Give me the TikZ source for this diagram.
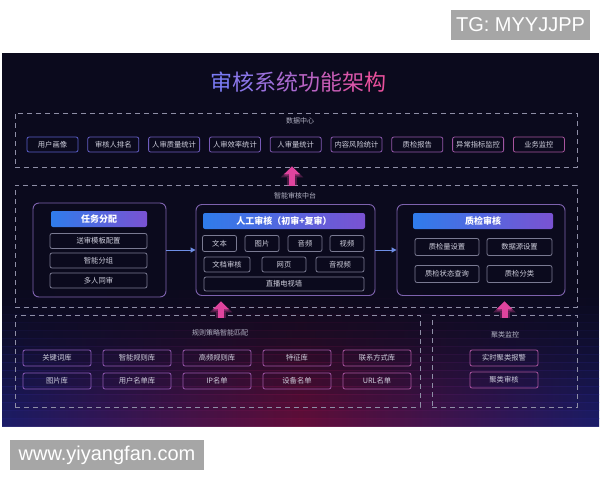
\documentclass[tikz,border=0pt]{standalone}
\usepackage{fontspec}
\setmainfont{Liberation Sans}
\newfontfamily\cjk{Noto Sans CJK SC}
\usetikzlibrary{arrows.meta}
\definecolor{bgnavy}{HTML}{0B0A1D}
\definecolor{glowmid}{HTML}{6A0E3C}
\definecolor{glowside}{HTML}{1D1E6E}
\definecolor{dashgray}{HTML}{8E8EA6}
\definecolor{lbl}{HTML}{B4B4C6}
\definecolor{itxt}{HTML}{CFCFDD}
\definecolor{ibl}{HTML}{5A5EC8}
\definecolor{ipk}{HTML}{A8549E}
\definecolor{ipu}{HTML}{8A5AB8}
\definecolor{igray}{HTML}{7A7A92}
\definecolor{hblue}{HTML}{2F7CEB}
\definecolor{hpurp}{HTML}{7A52D2}
\definecolor{pnl}{HTML}{7E62AE}
\definecolor{uppink}{HTML}{E0449E}
\definecolor{harr}{HTML}{6F8FE6}
\definecolor{wmgray}{HTML}{A6A6A6}
\definecolor{ta}{HTML}{7B7CF5}
\definecolor{tb}{HTML}{E8509C}
\tikzset{
 dbox/.style={draw=dashgray, line width=0.9pt, dash pattern=on 5pt off 4pt, inner sep=0pt},
 item/.style={draw=#1, line width=0.8pt, rounded corners=2pt, text=itxt, inner sep=0pt, minimum height=15pt, font=\cjk\fontsize{7.3}{8}\selectfont},
 item/.default=igray,
 panel/.style={draw=pnl, line width=0.9pt, rounded corners=6pt, inner sep=0pt},
 hdr/.style={left color=hblue, right color=hpurp, rounded corners=2pt, text=white, minimum height=16pt, inner sep=0pt, font=\cjk\bfseries\fontsize{9}{10}\selectfont},
 lab/.style={text=lbl, font=\cjk\fontsize{7}{8}\selectfont, inner sep=0pt},
 uparr/.style={draw=uppink, line width=6pt, -{Triangle[width=16pt,length=8pt]}},
 upglow/.style={draw=uppink, opacity=0.3, line width=10pt, -{Triangle[width=22pt,length=11pt]}},
 harrow/.style={draw=harr, line width=1pt, -{Triangle[width=5pt,length=5pt]}},
 wm/.style={fill=wmgray, text=white, inner sep=0pt, font=\fontsize{20}{22}\selectfont}
}
\begin{document}
\begin{tikzpicture}[x=1pt,y=-1pt]
\useasboundingbox (0,0) rectangle (600,480);
\fill[white] (0,0) rectangle (600,480);
\fill[bgnavy] (2,53) rectangle (599,426);
\foreach \k in {0,...,16}{
 \pgfmathsetmacro\op{0.03+0.9*(\k/16)^1.4}
 \shade[left color=glowside, right color=glowside, middle color=glowmid, opacity=\op] (2,{290+8*\k}) rectangle (599,{298+8*\k});
}
% watermarks
\node[wm, minimum width=139pt, minimum height=30pt] (tg) at (520.5,25) {TG: MYYJJPP};
\node[wm, minimum width=194pt, minimum height=30pt] (www) at (107,455) {www.yiyangfan.com};
% title
\node (title) at (298,82) {\cjk\fontsize{22}{24}\selectfont
 \textcolor{ta}{审}\textcolor{tb!14!ta}{核}\textcolor{tb!28!ta}{系}\textcolor{tb!42!ta}{统}\textcolor{tb!57!ta}{功}\textcolor{tb!71!ta}{能}\textcolor{tb!86!ta}{架}\textcolor{tb}{构}};
% dashed frames
\node[dbox, minimum width=562pt, minimum height=54pt] (dc) at (296,140) {};
\node[dbox, minimum width=562pt, minimum height=122pt] (mid) at (296,246) {};
\node[dbox, minimum width=405pt, minimum height=92pt] (bl) at (217.5,361) {};
\node[dbox, minimum width=145pt, minimum height=92pt] (br) at (504.5,361) {};
% data centre
\node[lab] (dclab) at (300,121) {数据中心};
\foreach \t [count=\i from 0] in {用户画像,审核人排名,人审质量统计,人审效率统计,人审量统计,内容风险统计,质检报告,异常指标监控,业务监控}{
  \pgfmathtruncatemacro\m{\i*100/8}
  \node[item=ipk!\m!ibl, minimum width=51pt, minimum height=15pt] (top\i) at ({52.5+60.8*\i},144.5) {\t};
}
% middle
\node[lab] (midlab) at (295,196) {智能审核中台};
\node[panel, minimum width=133pt, minimum height=94pt] (lp) at (99.5,250) {};
\node[panel, minimum width=179pt, minimum height=91pt] (cp) at (285.5,250) {};
\node[panel, minimum width=168pt, minimum height=91pt] (rp) at (481,250) {};
\node[hdr, minimum width=96pt] (lh) at (99,219) {任务分配};
\node[hdr, minimum width=162pt] (ch) at (284,221) {人工审核（初审+复审）};
\node[hdr, minimum width=140pt] (rh) at (483,221) {质检审核};
\node[item, minimum width=97pt] (l1) at (98.5,241) {送审模板配置};
\node[item, minimum width=97pt] (l2) at (98.5,260.5) {智能分组};
\node[item, minimum width=97pt] (l3) at (98.5,280.5) {多人同审};
\node[item, minimum width=34pt, minimum height=16pt] (c1) at (219.5,243.5) {文本};
\node[item, minimum width=34pt, minimum height=16pt] (c2) at (262,243.5) {图片};
\node[item, minimum width=34pt, minimum height=16pt] (c3) at (305,243.5) {音频};
\node[item, minimum width=34pt, minimum height=16pt] (c4) at (347,243.5) {视频};
\node[item, minimum width=46pt] (c5) at (227,264.5) {文档审核};
\node[item, minimum width=44pt] (c6) at (284,264.5) {网页};
\node[item, minimum width=48pt] (c7) at (340,264.5) {音视频};
\node[item, minimum width=160pt, minimum height=14pt] (c8) at (284,284) {直播电视墙};
\node[item, minimum width=64pt, minimum height=17pt] (r1) at (447,247) {质检量设置};
\node[item, minimum width=65pt, minimum height=17pt] (r2) at (519.5,247) {数据源设置};
\node[item, minimum width=64pt, minimum height=17pt] (r3) at (447,274) {质检状态查询};
\node[item, minimum width=65pt, minimum height=17pt] (r4) at (519.5,274) {质检分类};
\draw[harrow] (lp.east) -- (cp.west);
\draw[harrow] (cp.east) -- (rp.west);
% bottom left
\node[lab] (bllab) at (220,333) {规则策略智能匹配};
\foreach \t [count=\i from 0] in {关键词库,智能规则库,高频规则库,特征库,联系方式库}{
  \pgfmathtruncatemacro\m{\i*100/4}
  \node[item=ipk!\m!ipu, minimum width=68pt, minimum height=16pt] (ba\i) at ({57+80*\i},358) {\t};
}
\foreach \t [count=\i from 0] in {图片库,用户名单库,IP名单,设备名单,URL名单}{
  \pgfmathtruncatemacro\m{\i*100/4}
  \node[item=ipk!\m!ipu, minimum width=68pt, minimum height=16pt] (bb\i) at ({57+80*\i},381) {\t};
}
% bottom right
\node[lab] (brlab) at (505,335) {聚类监控};
\node[item=ipk, minimum width=68pt, minimum height=16pt] (br1) at (504,358) {实时聚类报警};
\node[item=ipk, minimum width=68pt, minimum height=16pt] (br2) at (504,380) {聚类审核};
% up arrows
\draw[upglow] ([xshift=-4pt,yshift=-1pt]mid.north) -- ([xshift=-4pt,yshift=1pt]dc.south);
\draw[uparr] ([xshift=-4pt,yshift=-1pt]mid.north) -- ([xshift=-4pt,yshift=1pt]dc.south);
\draw[upglow] ([xshift=3.5pt,yshift=-3pt]bl.north) -- ([xshift=3.5pt,yshift=6pt]bl.north |- mid.south);
\draw[uparr] ([xshift=3.5pt,yshift=-3pt]bl.north) -- ([xshift=3.5pt,yshift=6pt]bl.north |- mid.south);
\draw[upglow] ([yshift=-3pt]br.north) -- ([yshift=6pt]br.north |- mid.south);
\draw[uparr] ([yshift=-3pt]br.north) -- ([yshift=6pt]br.north |- mid.south);
\end{tikzpicture}
\end{document}
